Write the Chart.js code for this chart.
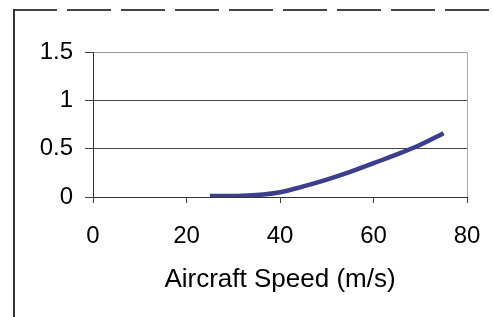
<!DOCTYPE html>
<html>
<head>
<meta charset="utf-8">
<script src="https://cdn.jsdelivr.net/npm/chart.js@4.4.1/dist/chart.umd.min.js"></script>
<style>
  html, body { margin: 0; padding: 0; background: #fff; }
  #wrap { position: relative; width: 493px; height: 317px; }
  #frameTop {
    position: absolute; left: 13px; top: 9px; width: 480px; height: 2px;
    background: repeating-linear-gradient(90deg, #444 0 44px, transparent 44px 54px);
  }
  #frameLeft {
    position: absolute; left: 13px; top: 9px; width: 2px; height: 308px; background: #333;
  }
</style>
</head>
<body>
<div id="wrap">
  <canvas id="chart" width="493" height="317"></canvas>
  <div id="frameTop"></div>
  <div id="frameLeft"></div>
</div>
<script>
// aircraft speed (m/s) and value
const speeds = [25, 30, 35, 40, 45, 50, 55, 60, 65, 70, 75];
const values = [0.01, 0.01, 0.02, 0.05, 0.11, 0.18, 0.26, 0.35, 0.44, 0.54, 0.66];
const xTicks = [0, 20, 40, 60, 80];
const yTicks = [0, 0.5, 1, 1.5];
const xTitle = 'Aircraft Speed (m/s)';

const font = { family: '"Liberation Sans", Arial, sans-serif', size: 24 };
const titleFont = { family: '"Liberation Sans", Arial, sans-serif', size: 26 };

new Chart(document.getElementById('chart'), {
    type: 'line',
    data: {
        datasets: [{
            data: speeds.map((s, i) => ({ x: s, y: values[i] })),
            borderColor: '#3b3f8c',
            borderWidth: 4.5,
            pointRadius: 0,
            tension: 0.4,
            fill: false
        }]
    },
    options: {
        responsive: false,
        animation: false,
        layout: { padding: { top: 52, right: 26, bottom: 0, left: 0 } },
        plugins: { legend: { display: false }, tooltip: { enabled: false } },
        scales: {
            x: {
                type: 'linear',
                min: 0, max: 80,
                afterBuildTicks: s => { s.ticks = xTicks.map(v => ({ value: v })); },
                afterFit: s => {
                    s.height = 120;
                    // let the layout padding decide where the plot ends
                    s.paddingLeft = 0;
                    s.paddingRight = 0;
                },
                ticks: { color: '#000', font, padding: 19, maxRotation: 0 },
                grid: {
                    color: c => c.tick && c.tick.value === 80 ? '#aaa' : 'transparent',
                    tickColor: '#444',
                    tickLength: 6
                },
                border: { color: '#333', width: 1 },
                title: { display: true, text: xTitle, color: '#000', font: titleFont, padding: 22 }
            },
            y: {
                min: 0, max: 1.5,
                afterBuildTicks: s => { s.ticks = yTicks.map(v => ({ value: v })); },
                afterFit: s => { s.width = 93; },
                ticks: { color: '#000', font, padding: 12, callback: v => String(v) },
                grid: {
                    color: c => c.tick && c.tick.value === 1.5 ? '#999' : '#444',
                    tickColor: '#444',
                    tickLength: 8
                },
                border: { color: '#333', width: 1 }
            }
        }
    }
});
</script>
</body>
</html>
